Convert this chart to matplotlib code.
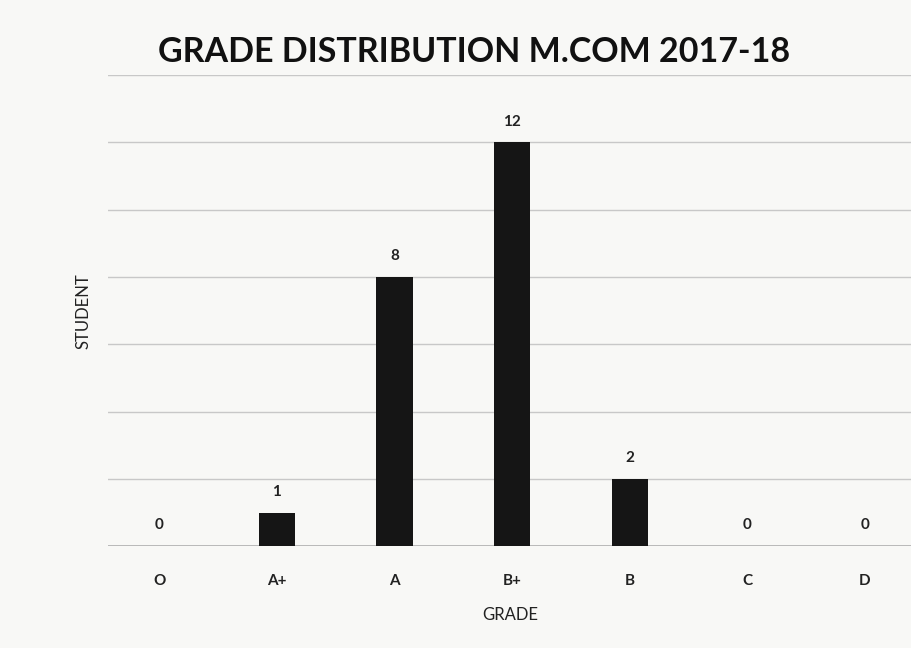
import matplotlib.pyplot as plt

grades = ['O', 'A+', 'A', 'B+', 'B', 'C', 'D']
students = [0, 1, 8, 12, 2, 0, 0]
title = 'GRADE DISTRIBUTION M.COM 2017-18'

plt.rcParams['font.family'] = ['Lato', 'DejaVu Sans']

fig = plt.figure(figsize=(9.12, 6.48), dpi=100)
fig.patch.set_facecolor('#f8f8f6')
ax = fig.add_axes([0.118, 0.157, 0.882, 0.727])
ax.set_facecolor('#f8f8f6')

x = range(len(grades))
bars = ax.bar(x, students, width=0.31, color='#151515', zorder=3)

# value labels on top of each bar
for xi, v in zip(x, students):
    ax.annotate(str(v), (xi, v), xytext=(0, 10), textcoords='offset points',
                ha='center', va='bottom', fontsize=11, fontweight='bold', color='#222222')

ax.set_xlim(-0.44, 6.40)
ax.set_ylim(0, 14)
ax.set_yticks(range(0, 15, 2))
ax.set_yticklabels([])
ax.tick_params(axis='y', length=0)
ax.grid(axis='y', color='#c8c8c8', linewidth=1.0, zorder=0)

ax.set_xticks(list(x))
ax.set_xticklabels(grades, fontsize=11, fontweight='bold', color='#222222')
ax.tick_params(axis='x', length=0, pad=20)

for s in ax.spines.values():
    s.set_visible(False)
ax.axhline(0, color='#b0b0b0', linewidth=1.2, zorder=2)

ax.set_xlabel('GRADE', fontsize=12, color='#222222', labelpad=14)
ax.set_ylabel('STUDENT', fontsize=12, color='#222222', labelpad=8)

fig.text(0.52, 0.92, title, ha='center', va='center', fontsize=24.5,
         fontweight='bold', color='#111111')

fig.savefig('out.png', dpi=100, facecolor=fig.get_facecolor())
